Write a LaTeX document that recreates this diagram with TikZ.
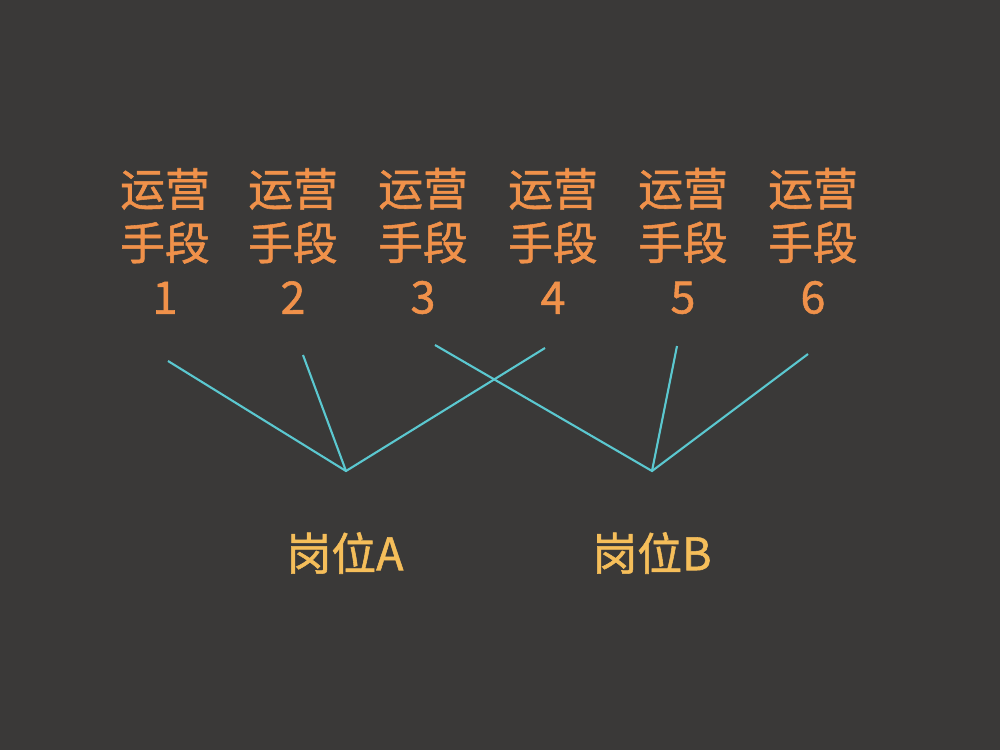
\documentclass[tikz,border=0pt]{standalone}
\usepackage{fontspec}
\setmainfont{Noto Sans CJK SC}
\newfontfamily\medfont{Noto Sans CJK SC}[FakeBold=1.2]
\usepackage{xcolor}
\usetikzlibrary{positioning}
\definecolor{bgdark}{HTML}{3A3938}
\definecolor{meansorange}{HTML}{F0914A}
\definecolor{postyellow}{HTML}{F5BE5A}
\definecolor{linkcyan}{HTML}{5BC8D0}

\begin{document}
\begin{tikzpicture}[
  x=0.02cm, y=-0.02cm,
  means/.style={align=center, text=meansorange, inner sep=0pt, font=\fontsize{25.5}{30.7}\selectfont\medfont},
  post/.style={text=postyellow, inner sep=0pt, font=\fontsize{25.5}{30}\selectfont\medfont},
  link/.style={draw=linkcyan, line width=1.2pt}
]
  \fill[bgdark] (0,0) rectangle (1000,750);
  \useasboundingbox (0,0) rectangle (1000,750);

  % top row
  \node[means] (m1) at (165,241) {运营\\手段\\1};
  \node[means] (m2) at (293,241) {运营\\手段\\2};
  \node[means] (m3) at (423,241) {运营\\手段\\3};
  \node[means] (m4) at (553,241) {运营\\手段\\4};
  \node[means] (m5) at (683,241) {运营\\手段\\5};
  \node[means] (m6) at (813,241) {运营\\手段\\6};

  % line ends
  \coordinate (e1) at (168,361);
  \coordinate (e2) at (303,355);
  \coordinate (e3) at (435,345);
  \coordinate (e4) at (545,348);
  \coordinate (e5) at (677,346);
  \coordinate (e6) at (808,354);
  \coordinate (va) at (346,471);
  \coordinate (vb) at (652,471);

  % posts
  \node[post] (pa) at (345,553) {岗位A};
  \node[post] (pb) at (652,553) {岗位B};

  \draw[link] (e1) -- (va) -- (e4);
  \draw[link] (e2) -- (va);
  \draw[link] (e3) -- (vb) -- (e6);
  \draw[link] (e5) -- (vb);
\end{tikzpicture}
\end{document}
